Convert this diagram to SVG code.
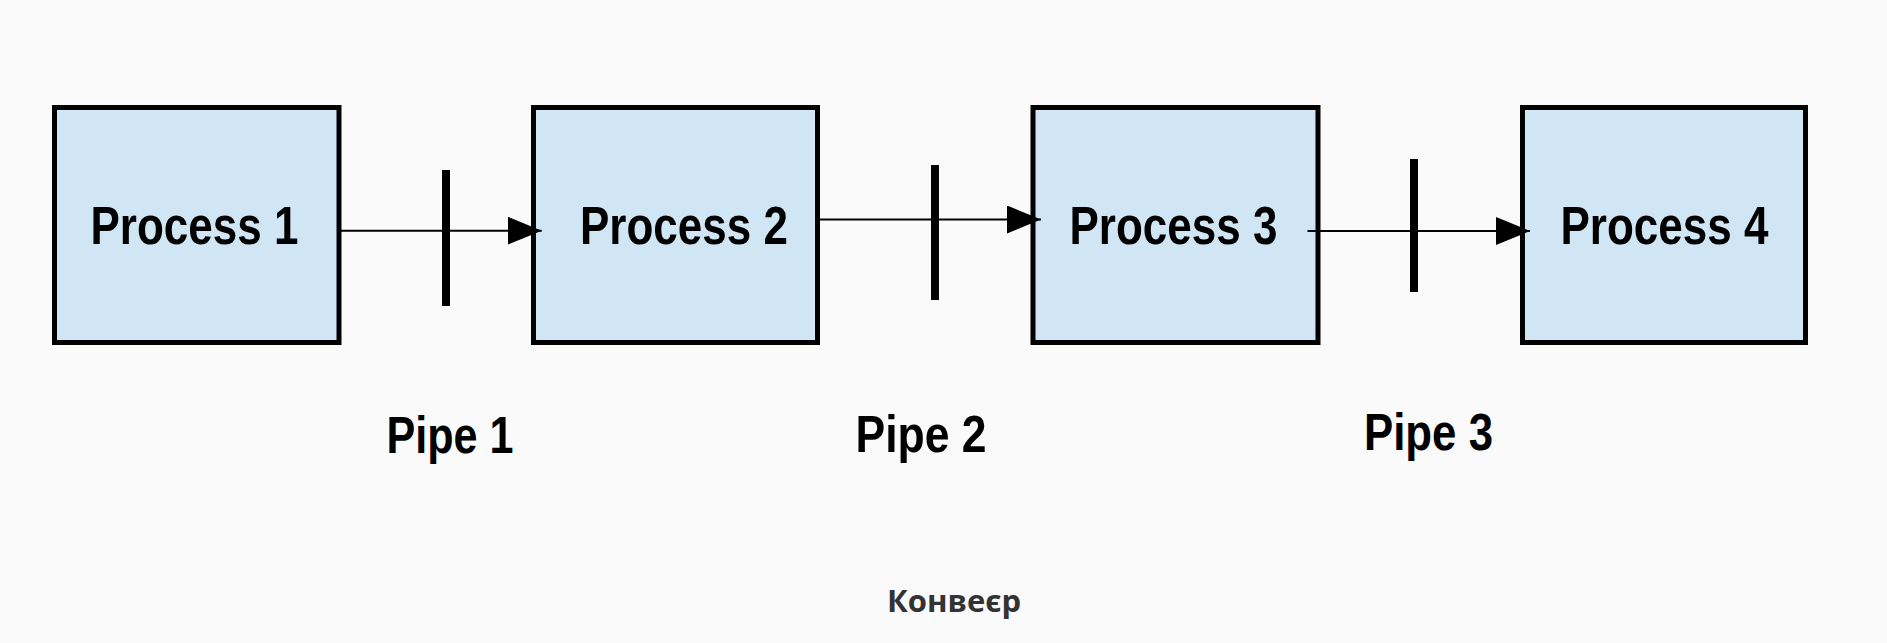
<svg xmlns="http://www.w3.org/2000/svg" width="1887" height="643" viewBox="0 0 1887 643">
  <style>
    .box { fill: #d0e6f4; stroke: #000; stroke-width: 5; }
    .lbl { font-family: "Liberation Sans Narrow", "Liberation Sans", Arial, sans-serif; font-weight: 700; font-size: 53px; fill: #000; text-anchor: middle; }
    .pipe { font-family: "Liberation Sans Narrow", "Liberation Sans", Arial, sans-serif; font-weight: 700; font-size: 52px; fill: #000; text-anchor: middle; }
    .cap { font-family: "Open Sans", "Noto Sans", "DejaVu Sans", sans-serif; font-weight: 700; font-size: 31px; fill: #333; text-anchor: middle; }
    .conn { stroke: #000; stroke-width: 2; fill: none; }
    .bar { stroke: #000; stroke-width: 8; }
  </style>
  <defs>
    <marker id="arrow" markerUnits="userSpaceOnUse" markerWidth="34" markerHeight="28" refX="34" refY="14" orient="auto">
      <path d="M0,0 L34,14 L0,28 Z" fill="#000"/>
    </marker>
  </defs>
  <rect width="1887" height="643" fill="#fafafa"/>

  <g id="process1">
    <rect class="box" x="54.5" y="107.5" width="284.5" height="235"/>
    <text class="lbl" x="194.5" y="244" textLength="208" lengthAdjust="spacingAndGlyphs">Process 1</text>
  </g>
  <g id="process2">
    <rect class="box" x="533.5" y="107.5" width="284" height="235"/>
    <text class="lbl" x="684" y="244" textLength="208" lengthAdjust="spacingAndGlyphs">Process 2</text>
  </g>
  <g id="process3">
    <rect class="box" x="1033" y="107.5" width="285" height="235"/>
    <text class="lbl" x="1173.5" y="244" textLength="208" lengthAdjust="spacingAndGlyphs">Process 3</text>
  </g>
  <g id="process4">
    <rect class="box" x="1522.5" y="107.5" width="283" height="235"/>
    <text class="lbl" x="1664.5" y="244" textLength="208" lengthAdjust="spacingAndGlyphs">Process 4</text>
  </g>

  <g id="connectors">
    <line class="conn" x1="341" y1="230.7" x2="541.7" y2="230.7" marker-end="url(#arrow)"/>
    <line class="bar" x1="446" y1="170" x2="446" y2="306"/>
    <line class="conn" x1="820" y1="219.5" x2="1041" y2="219.5" marker-end="url(#arrow)"/>
    <line class="bar" x1="935" y1="165" x2="935" y2="300"/>
    <line class="conn" x1="1307.5" y1="231" x2="1530" y2="231" marker-end="url(#arrow)"/>
    <line class="bar" x1="1414" y1="159" x2="1414" y2="292"/>
  </g>

  <g id="pipe-labels">
    <text class="pipe" x="450" y="453.3" textLength="127" lengthAdjust="spacingAndGlyphs">Pipe 1</text>
    <text class="pipe" x="921" y="451.7" textLength="131" lengthAdjust="spacingAndGlyphs">Pipe 2</text>
    <text class="pipe" x="1428.5" y="450" textLength="129" lengthAdjust="spacingAndGlyphs">Pipe 3</text>
  </g>

  <g id="caption">
    <text class="cap" x="954" y="612">Конвеєр</text>
  </g>
</svg>
